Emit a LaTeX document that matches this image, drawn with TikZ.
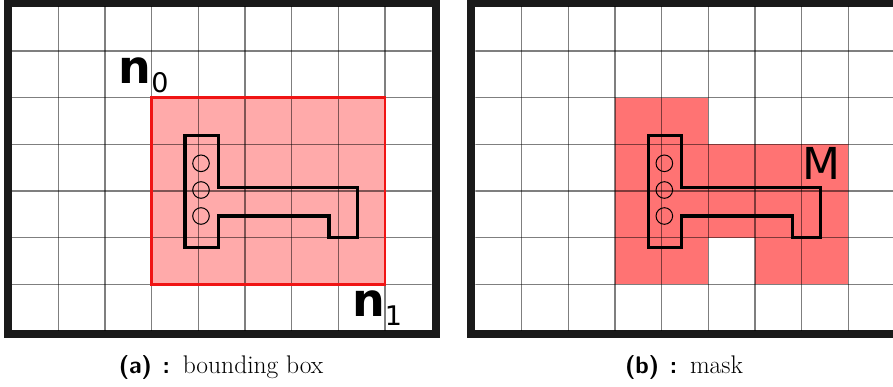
\documentclass[tikz,border=0pt]{standalone}
\usepackage{fontspec}
\newfontfamily\dejavu{DejaVu Sans}
\definecolor{framecol}{HTML}{1A1A1A}
\definecolor{boxfill}{HTML}{FFAAAA}
\definecolor{maskfill}{HTML}{FF7373}
\definecolor{boxline}{HTML}{F01414}
\tikzset{
  gridline/.style={draw=black, draw opacity=0.5, line width=1.4pt},
  tshape/.style={draw=black, line width=3.4pt, line join=miter},
  hole/.style={draw=black, line width=1pt},
  lbl/.style={inner sep=0pt, anchor=base west, font=\dejavu},
  captext/.style={inner sep=0pt, anchor=base, font=\fontsize{25.5}{25.5}\selectfont},
}
\newcommand{\capl}[1]{{\fontsize{24}{24}\selectfont\sffamily\bfseries(#1)\hspace{0.45em}:}\hspace{0.5em}}
\begin{document}
\begin{tikzpicture}[x=1pt,y=-1pt]
\useasboundingbox (0,0) rectangle (893,387);
\fill[white] (0,0) rectangle (893,387);
\begin{scope}
\clip (0,0) rectangle (893,387);
% ---------- panel (a) ----------
\fill[framecol] (4,0) rectangle (439.5,338);
\fill[white] (12,7) rectangle (431.5,330);
\fill[boxfill] (151.67,97.67) rectangle (385,284.33);
\begin{scope}
\clip (12,7) rectangle (431.5,330);
\foreach \k in {1,...,8} \draw[gridline] ({11.67+46.667*\k},0) -- ({11.67+46.667*\k},340);
\foreach \k in {1,...,6} \draw[gridline] (0,{4.33+46.667*\k}) -- (440,{4.33+46.667*\k});
\end{scope}
\draw[boxline, line width=2.6pt] (151.67,97.67) rectangle (385,284.33);
\draw[tshape] (185,135.7) -- (218.3,135.7) -- (218.3,187.3) -- (357.3,187.3) -- (357.3,237.3) -- (329,237.3) -- (329,216) -- (218.3,216) -- (218.3,247.3) -- (185,247.3) -- cycle;
\foreach \yy in {163.3,190,216} \draw[hole] (201,\yy) circle (8.3);
\node[lbl] (n0) at (118.5,83.3) {{\fontsize{46}{46}\selectfont\bfseries n}\raisebox{-9.5pt}{\fontsize{27}{27}\selectfont 0}};
\node[lbl] (n1) at (352,316.7) {{\fontsize{46}{46}\selectfont\bfseries n}\raisebox{-8.5pt}{\fontsize{27}{27}\selectfont 1}};
% ---------- panel (b) ----------
\begin{scope}[xshift=463.33]
\fill[framecol] (4,0) rectangle (450,338);
\fill[white] (12,7) rectangle (440,330);
\fill[maskfill] (151.67,97.67) rectangle (245,284.33);
\fill[maskfill] (245,144.33) rectangle (385,237.67);
\fill[maskfill] (291.67,237.67) rectangle (385,284.33);
\begin{scope}
\clip (12,7) rectangle (440,330);
\foreach \k in {1,...,9} \draw[gridline] ({11.67+46.667*\k},0) -- ({11.67+46.667*\k},340);
\foreach \k in {1,...,6} \draw[gridline] (0,{4.33+46.667*\k}) -- (440,{4.33+46.667*\k});
\end{scope}
\draw[tshape] (185,135.7) -- (218.3,135.7) -- (218.3,187.3) -- (357.3,187.3) -- (357.3,237.3) -- (329,237.3) -- (329,216) -- (218.3,216) -- (218.3,247.3) -- (185,247.3) -- cycle;
\foreach \yy in {163.3,190,216} \draw[hole] (201,\yy) circle (8.3);
\node[lbl] (m) at (339,180) {\fontsize{44}{44}\selectfont M};
\end{scope}
\end{scope}
% ---------- captions ----------
\node[captext] (capa) at (221,373) {\capl{a}bounding box};
\node[captext] (capb) at (684,373) {\capl{b}mask};
\end{tikzpicture}
\end{document}
